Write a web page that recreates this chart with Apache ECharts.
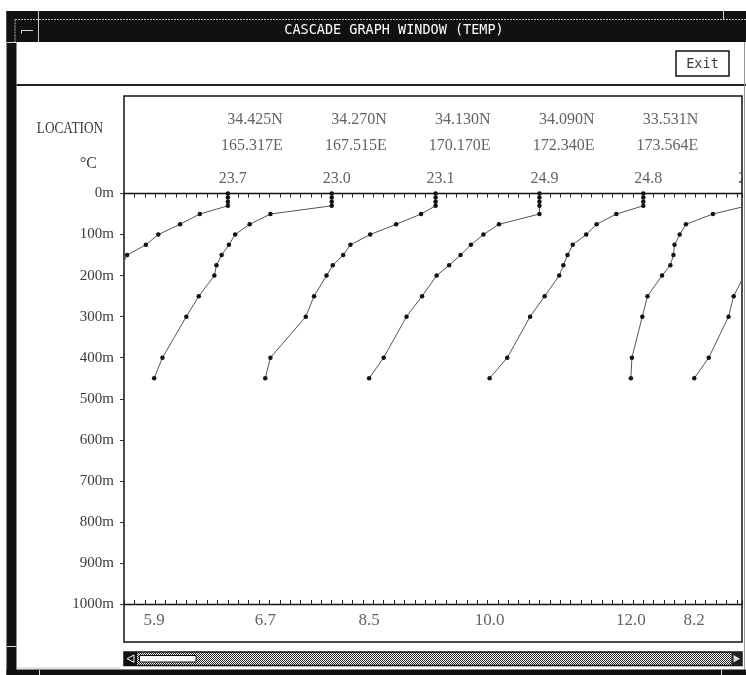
<!DOCTYPE html>
<html><head><meta charset="utf-8">
<script src="https://cdn.jsdelivr.net/npm/echarts@6/dist/echarts.min.js"></script>
<style>html,body{margin:0;padding:0;background:#fff}#c{width:746px;height:675px}</style>
</head><body><div id="c"></div>
<script>
// ---- data ----
const stationLat = ['34.425N', '34.270N', '34.130N', '34.090N', '33.531N', '', ''];
const stationLon = ['165.317E', '167.515E', '170.170E', '172.340E', '173.564E', '', ''];
const surfaceTemp = [23.7, 23.0, 23.1, 24.9, 24.8, 23.2, 23.3];
const depthsStd = [0, 10, 20, 30, 50, 75, 100, 125, 150, 175, 200, 250, 300, 400, 450];
const depthsP1 = [0, 10, 20, 30, 50, 75, 100, 125, 150, 175];
const tempsP1 = [23.7, 23.7, 23.7, 23.7, 21.0, 19.1, 17.0, 15.8, 14.0, 13.5];
const tempsP2 = [23.0, 23.0, 23.0, 23.0, 17.1, 15.1, 13.7, 13.1, 12.4, 11.9, 11.7, 10.2, 9.0, 6.7, 5.9];
const tempsP3 = [23.1, 23.1, 23.1, 23.1, 21.7, 19.3, 16.8, 14.9, 14.2, 13.2, 12.6, 11.4, 10.6, 7.2, 6.7];
const tempsP4 = [24.9, 24.9, 24.9, 24.9, 24.9, 21.0, 19.5, 18.3, 17.3, 16.2, 15.0, 13.6, 12.1, 9.9, 8.5];
const tempsP5 = [24.8, 24.8, 24.8, 24.8, 22.2, 20.3, 19.3, 18.0, 17.5, 17.1, 16.7, 15.3, 13.9, 11.7, 10.0];
const tempsP6 = [23.2, 23.2, 23.2, 23.2, 19.9, 17.3, 16.7, 16.2, 16.1, 15.8, 15.0, 13.6, 13.1, 12.1, 12.0];
const depthsP7 = [200, 250, 300, 400, 450];
const tempsP7 = [13.0, 12.0, 11.5, 9.6, 8.2];
const cascadeStep = 10;      // degC between successive profiles
const depthMax = 1000;
const depthStep = 100;

const profiles = [
  {d: depthsP1, t: tempsP1}, {d: depthsStd, t: tempsP2}, {d: depthsStd, t: tempsP3},
  {d: depthsStd, t: tempsP4}, {d: depthsStd, t: tempsP5}, {d: depthsStd, t: tempsP6},
  {d: depthsP7, t: tempsP7}
];

// ---- layout ----
const boxL = 124, boxR = 742, boxT = 96, boxB = 642;
const zeroY = 193.5, bottomY = 604;
const pxPerM = (bottomY - zeroY) / depthMax;
const xMax = 59.5;
const serif = '"Liberation Serif", serif';
const mono = '"DejaVu Sans Mono", monospace';
const txt = '#3a3a3a';

const anchor = i => cascadeStep * (i + 1);

const lineSeries = profiles.map((p, i) => ({
  type: 'line', xAxisIndex: 0, yAxisIndex: 0,
  data: p.d.map((d, j) => [anchor(i) + p.t[j] - surfaceTemp[i], d]),
  symbol: 'circle', symbolSize: 4.5, showSymbol: true, showAllSymbol: true,
  itemStyle: {color: '#111'}, lineStyle: {color: '#555', width: 1},
  animation: false, z: 3
}));

const locSeries = {
  type: 'scatter', xAxisIndex: 0, yAxisIndex: 0, clip: false, silent: true,
  symbolSize: 1, itemStyle: {color: 'rgba(0,0,0,0)'}, animation: false,
  data: stationLat.map((la, i) => ({name: la + '\n' + stationLon[i], value: [anchor(i), 0]}))
    .filter((d, i) => stationLat[i] !== ''),
  label: {show: true, position: 'inside', formatter: '{b}', align: 'right', verticalAlign: 'middle',
    offset: [55, -61], lineHeight: 26, fontFamily: serif, fontSize: 16, color: txt}
};
const surfSeries = {
  type: 'scatter', xAxisIndex: 0, yAxisIndex: 0, clip: false, silent: true,
  symbolSize: 1, itemStyle: {color: 'rgba(0,0,0,0)'}, animation: false,
  data: surfaceTemp.map((t, i) => ({name: t.toFixed(1), value: [anchor(i), 0]})),
  label: {show: true, position: 'inside', formatter: '{b}', align: 'left', verticalAlign: 'middle',
    offset: [-9, -15], fontFamily: serif, fontSize: 16, color: txt}
};
const bottomSeries = {
  type: 'scatter', xAxisIndex: 0, yAxisIndex: 0, clip: true, silent: true,
  symbolSize: 1, itemStyle: {color: 'rgba(0,0,0,0)'}, animation: false,
  data: profiles.map((p, i) => {
    const n = p.t.length - 1;
    return {name: p.t[n].toFixed(1), value: [anchor(i) + p.t[n] - surfaceTemp[i], depthMax]};
  }).filter(d => d.value[0] >= 0 && d.value[0] <= xMax),
  label: {show: true, position: 'inside', formatter: '{b}', align: 'center', verticalAlign: 'middle',
    offset: [0, 17], fontFamily: serif, fontSize: 17, color: txt}
};

// stipple pattern for scrollbar
const pat = document.createElement('canvas');
pat.width = 2; pat.height = 2;
const pc = pat.getContext('2d');
pc.fillStyle = '#fff'; pc.fillRect(0, 0, 2, 2);
pc.fillStyle = '#222'; pc.fillRect(0, 0, 1, 1); pc.fillRect(1, 1, 1, 1);

const L = (x1, y1, x2, y2, stroke, w, dash, z) => ({type: 'line', z: z || 10,
  shape: {x1, y1, x2, y2}, style: {stroke, lineWidth: w || 1, lineDash: dash || null}});

const graphics = [
  {type: 'rect', z: 10, shape: {x: 6.5, y: 11, width: 740, height: 31}, style: {fill: '#111'}},
  {type: 'rect', z: 10, shape: {x: 6.5, y: 11, width: 10, height: 664}, style: {fill: '#111'}},
  L(15, 19.5, 746, 19.5, '#bbb', 1, [2, 1]),
  L(15, 19.5, 15, 42, '#bbb', 1, [2, 1]),
  L(38.5, 11, 38.5, 42, '#ccc', 1),
  L(723.5, 11, 723.5, 19.5, '#ccc', 1),
  {type: 'polyline', z: 11, shape: {points: [[21.5, 33.5], [21.5, 30.5], [33, 30.5]]}, style: {stroke: '#ddd', lineWidth: 1, fill: null}},
  {type: 'text', z: 11, x: 394, y: 30, style: {text: 'CASCADE GRAPH WINDOW (TEMP)', fill: '#fff', fontFamily: mono, fontSize: 13.5, align: 'center', verticalAlign: 'middle'}},
  L(7, 42.5, 16.5, 42.5, '#ddd', 1, null, 11),
  L(7, 646.5, 16.5, 646.5, '#ddd', 1, null, 11),
  L(16.5, 85, 746, 85, '#222', 2),
  {type: 'rect', z: 10, shape: {x: 676, y: 51, width: 53, height: 25}, style: {fill: '#fff', stroke: '#111', lineWidth: 1.5}},
  {type: 'text', z: 11, x: 702.5, y: 64, style: {text: 'Exit', fill: txt, fontFamily: mono, fontSize: 13.5, align: 'center', verticalAlign: 'middle'}},
  {type: 'text', z: 11, x: 70, y: 128.5, scaleX: 0.78, style: {text: 'LOCATION', fill: txt, fontFamily: serif, fontSize: 17, align: 'center', verticalAlign: 'middle'}},
  {type: 'text', z: 11, x: 88.5, y: 163.5, style: {text: '°C', fill: txt, fontFamily: serif, fontSize: 16, align: 'center', verticalAlign: 'middle'}},
  {type: 'rect', z: 100, shape: {x: 743, y: 88, width: 3, height: 580}, style: {fill: '#fff'}},
  L(744.5, 42, 744.5, 669, '#999', 1, null, 101),
  {type: 'rect', z: 10, shape: {x: 124, y: 652, width: 618, height: 13.5}, style: {fill: {image: pat, repeat: 'repeat'}, stroke: '#111', lineWidth: 1.5}},
  {type: 'rect', z: 11, shape: {x: 124, y: 652, width: 13, height: 13.5}, style: {fill: '#111'}},
  {type: 'polygon', z: 12, shape: {points: [[127, 658.7], [134, 655], [134, 662.4]]}, style: {fill: null, stroke: '#fff', lineWidth: 1}},
  {type: 'rect', z: 11, shape: {x: 139.5, y: 655.5, width: 56.5, height: 6.5}, style: {fill: '#fff', stroke: '#111', lineWidth: 1}},
  {type: 'rect', z: 11, shape: {x: 731.5, y: 652, width: 10.5, height: 13.5}, style: {fill: '#222'}},
  {type: 'polygon', z: 12, shape: {points: [[733.5, 655], [740, 658.7], [733.5, 662.4]]}, style: {fill: '#ddd'}},
  {type: 'rect', z: 10, shape: {x: 6.5, y: 669.5, width: 740, height: 5.5}, style: {fill: '#111'}},
  L(16.7, 668, 120, 668, '#ccc', 1),
  L(39.5, 670, 39.5, 675, '#ddd', 1, null, 11),
  L(721.5, 670, 721.5, 675, '#ddd', 1, null, 11)
];

const chart = echarts.init(document.getElementById('c'), null, {renderer: 'canvas'});
chart.setOption({
  animation: false,
  backgroundColor: '#fff',
  grid: [
    {left: boxL, top: boxT, width: boxR - boxL, height: boxB - boxT, show: true,
     borderColor: '#111', borderWidth: 1.5, backgroundColor: 'transparent'},
    {left: boxL, top: zeroY, width: boxR - boxL, height: bottomY - zeroY, show: false}
  ],
  xAxis: [
    {gridIndex: 0, type: 'value', min: 0, max: xMax, show: false},
    {gridIndex: 1, type: 'value', position: 'top', min: 0, max: xMax, interval: 1,
     axisLine: {show: true, lineStyle: {color: '#111', width: 1.3}},
     axisTick: {show: true, inside: true, length: 4, lineStyle: {color: '#222'}},
     axisLabel: {show: false}, splitLine: {show: false}},
    {gridIndex: 1, type: 'value', position: 'bottom', min: 0, max: xMax, interval: 1,
     axisLine: {show: true, lineStyle: {color: '#111', width: 1.3}},
     axisTick: {show: true, inside: true, length: 4, lineStyle: {color: '#222'}},
     axisLabel: {show: false}, splitLine: {show: false}}
  ],
  yAxis: [
    {gridIndex: 0, type: 'value', inverse: true,
     min: (boxT - zeroY) / pxPerM, max: (boxB - zeroY) / pxPerM, show: false},
    {gridIndex: 1, type: 'value', inverse: true, min: 0, max: depthMax, interval: depthStep,
     offset: 5, axisLine: {show: false},
     axisTick: {show: true, length: 4, lineStyle: {color: '#333'}},
     axisLabel: {show: true, formatter: v => String(v) + 'm', margin: 5, fontFamily: serif, fontSize: 15,
       color: txt, padding: [0, 0, 5, 0]},
     splitLine: {show: false}}
  ],
  series: [...lineSeries, locSeries, surfSeries, bottomSeries],
  graphic: graphics
});
</script>
</body></html>
